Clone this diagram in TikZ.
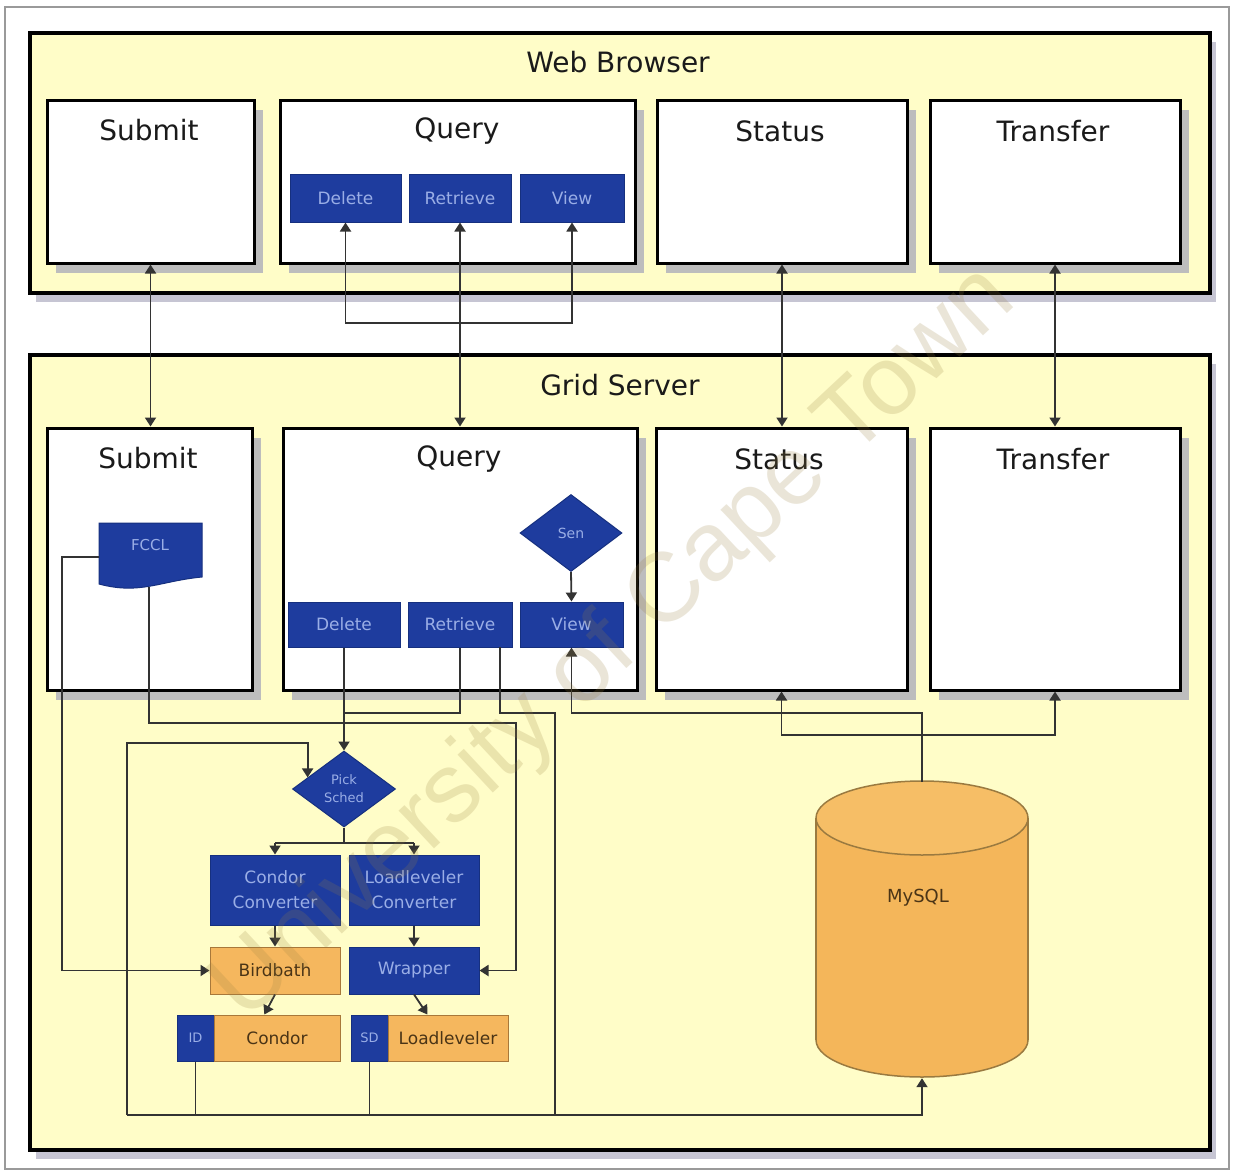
\documentclass[tikz,border=0pt]{standalone}
\usepackage{fontspec}
\setmainfont{DejaVu Sans}
\newfontfamily\wmfont{Liberation Sans}
\usetikzlibrary{shapes.geometric,shadows,arrows.meta,calc}
\definecolor{ybg}{HTML}{FFFDC8}
\definecolor{linec}{HTML}{333333}
\definecolor{titlec}{HTML}{1A1A1A}
\definecolor{bblue}{HTML}{1E3C9E}
\definecolor{bborder}{HTML}{16307F}
\definecolor{btext}{HTML}{9AAEE6}
\definecolor{orng}{HTML}{F5B75E}
\definecolor{oborder}{HTML}{A8783A}
\definecolor{otext}{HTML}{4A3416}
\definecolor{cylfill}{HTML}{F4B65A}
\definecolor{cyltop}{HTML}{F6BE66}
\definecolor{cylborder}{HTML}{9A7A40}
\definecolor{bshadow}{HTML}{BDBDBD}
\definecolor{pshadow}{HTML}{C6C5D3}
\definecolor{framec}{HTML}{9A9A9A}
\definecolor{wmc}{HTML}{9A8040}
\begin{document}
\begin{tikzpicture}[x=1pt,y=-1pt,
  line/.style={draw=linec, line width=1.8pt},
  arr/.style={line, -{Triangle[width=11pt,length=9pt]}},
  barr/.style={line, {Triangle[width=11pt,length=9pt]}-{Triangle[width=11pt,length=9pt]}},
  panel/.style={draw=black, line width=4pt, fill=ybg, inner sep=0pt,
    drop shadow={shadow xshift=6pt, shadow yshift=-9pt, fill=pshadow, opacity=1}},
  box/.style={draw=black, line width=3pt, fill=white, inner sep=0pt,
    drop shadow={shadow xshift=9pt, shadow yshift=-10pt, fill=bshadow, opacity=1}},
  title/.style={font=\fontsize{28}{32}\selectfont, text=titlec, inner sep=0pt},
  bbtn/.style={draw=bborder, line width=1pt, fill=bblue, text=btext, inner sep=0pt,
    font=\fontsize{17}{25}\selectfont, align=center},
  obtn/.style={draw=oborder, line width=1pt, fill=orng, text=otext, inner sep=0pt,
    font=\fontsize{17}{25}\selectfont},
  small/.style={font=\fontsize{13}{16}\selectfont, text=btext, align=center, inner sep=0pt},
]
\useasboundingbox (0,0) rectangle (1234,1175);
\fill[white] (0,0) rectangle (1234,1175);
\draw[framec, line width=1.5pt] (5,7) rectangle (1229,1169);

% panels
\node[panel, minimum width=1180pt, minimum height=260pt] (wb) at (620,163) {};
\node[panel, minimum width=1180pt, minimum height=795pt] (gs) at (620,752.5) {};
\node[title] (wbT) at (618,62) {Web Browser};
\node[title] (gsT) at (620,385) {Grid Server};

% web browser boxes
\node[box, minimum width=207pt, minimum height=163pt] (wSub) at (150.5,181.5) {};
\node[box, minimum width=355pt, minimum height=163pt] (wQ) at (457.5,181.5) {};
\node[box, minimum width=250pt, minimum height=163pt] (wSt) at (782,181.5) {};
\node[box, minimum width=250pt, minimum height=163pt] (wTr) at (1055,181.5) {};
\node[title] (wSubT) at (149,130) {Submit};
\node[title] (wQT) at (457,131) {Query};
\node[title] (wStT) at (780,131) {Status};
\node[title] (wTrT) at (1053,131) {Transfer};
\node[bbtn, minimum width=111pt, minimum height=48pt] (wDel) at (345.5,198) {Delete};
\node[bbtn, minimum width=102pt, minimum height=48pt] (wRet) at (460,198) {Retrieve};
\node[bbtn, minimum width=104pt, minimum height=48pt] (wView) at (572,198) {View};

% grid server boxes
\node[box, minimum width=205pt, minimum height=262pt] (gSub) at (149.5,559) {};
\node[box, minimum width=354pt, minimum height=262pt] (gQ) at (460,559) {};
\node[box, minimum width=251pt, minimum height=262pt] (gSt) at (781.5,559) {};
\node[box, minimum width=250pt, minimum height=262pt] (gTr) at (1055,559) {};
\node[title] (gSubT) at (148,458) {Submit};
\node[title] (gQT) at (459,459) {Query};
\node[title] (gStT) at (779,459) {Status};
\node[title] (gTrT) at (1053,459) {Transfer};

% submit document
\filldraw[fill=bblue, draw=bborder, line width=1pt] (99,523) -- (202,523) -- (202,577)
  .. controls (160,581) and (140,595) .. (99,584) -- cycle;
\node[small, font=\fontsize{15}{18}\selectfont, minimum width=103pt, minimum height=64pt] (doc) at (150.5,555) {};
\node[small, font=\fontsize{15}{18}\selectfont] (docT) at (150,545) {FCCL};
\coordinate (docb) at (149,587);

% grid query content
\node[bbtn, diamond, aspect=1.32, minimum width=102pt, minimum height=77pt, font=\fontsize{14}{16}\selectfont] (sen) at (571,533) {Sen};
\node[bbtn, minimum width=112pt, minimum height=45pt] (gDel) at (344,624.5) {Delete};
\node[bbtn, minimum width=104pt, minimum height=45pt] (gRet) at (460,624.5) {Retrieve};
\node[bbtn, minimum width=103pt, minimum height=45pt] (gView) at (571.5,624.5) {View};

% scheduler part
\node[bbtn, diamond, aspect=1.35, minimum width=103pt, minimum height=76pt, font=\fontsize{13}{18}\selectfont] (pick) at (344,789) {Pick\\Sched};
\node[bbtn, minimum width=130pt, minimum height=70pt] (cconv) at (275,890) {Condor\\Converter};
\node[bbtn, minimum width=130pt, minimum height=70pt] (lconv) at (414,890) {Loadleveler\\Converter};
\node[obtn, minimum width=130pt, minimum height=47pt] (bird) at (275,970.5) {Birdbath};
\node[bbtn, minimum width=130pt, minimum height=47pt] (wrap) at (414,970.5) {Wrapper};
\node[bbtn, minimum width=37pt, minimum height=46pt, font=\fontsize{13}{16}\selectfont] (ID) at (195.5,1038) {ID};
\node[obtn, minimum width=126pt, minimum height=46pt] (condor) at (277,1038) {Condor};
\node[bbtn, minimum width=37pt, minimum height=46pt, font=\fontsize{13}{16}\selectfont] (SD) at (369.5,1038) {SD};
\node[obtn, minimum width=120pt, minimum height=46pt] (ll) at (448,1038) {Loadleveler};

% MySQL cylinder
\filldraw[fill=cylfill, draw=cylborder, line width=1.5pt] (922,1040) ellipse [x radius=106, y radius=37];
\fill[cylfill] (816,818) rectangle (1028,1040);
\draw[cylborder, line width=1.5pt] (816,818) -- (816,1040) (1028,818) -- (1028,1040);
\filldraw[fill=cyltop, draw=cylborder, line width=1.5pt] (922,818) ellipse [x radius=106, y radius=37];
\node[minimum width=212pt, minimum height=296pt, inner sep=0pt] (mysql) at (922,930) {};
\node[font=\fontsize{18}{20}\selectfont, text=otext] (mysqlT) at (918,898) {MySQL};

% web <-> grid connectors
\draw[barr] (wSub.south) -- (wSub.south |- gSub.north);
\draw[barr] (wRet.south) -- (wRet.south |- gQ.north);
\draw[barr] (wSt.south) -- (wSt.south |- gSt.north);
\draw[barr] (wTr.south) -- (wTr.south |- gTr.north);
\draw[barr] (wDel.south) -- (wDel.south |- 0,323) -| (wView.south);

% grid query connectors
\draw[arr] (sen.south) -- (gView.north);
\draw[arr] (gDel.south) -- (pick.north);
\draw[line] (gRet.south) |- (gDel.south |- 0,713);
\coordinate (retR) at (500,647);
\coordinate (lb) at (127,1115);
\coordinate (rv) at (555,713);
\draw[line] (retR) |- (rv) -- (rv |- lb);
% submit document connectors
\draw[arr] (docb) |- (516,723) |- (wrap.east);
\draw[arr] (doc.west |- 0,557) -- (62,557) |- (bird.west);
% scheduler connectors
\coordinate (pickin) at ($(pick.west)!0.3!(pick.north)$);
\draw[arr] (lb) |- (pickin |- 0,743) -- (pickin);
\draw[line] (pick.south) -- (pick.south |- 0,843);
\draw[arr] (cconv.north |- 0,843) -- (cconv.north);
\draw[arr] (lconv.north |- 0,843) -- (lconv.north);
\draw[line] (cconv.north |- 0,843) -- (lconv.north |- 0,843);
\draw[arr] (cconv.south) -- (bird.north);
\draw[arr] (lconv.south) -- (wrap.north);
\draw[arr] (bird.south) -- ($(condor.north west)!0.4!(condor.north east)$);
\draw[arr] (wrap.south) -- ($(ll.north west)!0.33!(ll.north east)$);
\draw[line] (ID.south) -- (ID.south |- lb);
\draw[line] (SD.south) -- (SD.south |- lb);
\draw[arr] (lb) -- (mysql.south |- lb) -- (mysql.south);
% mysql connectors
\draw[arr] (mysql.north) |- (gView.south |- 0,713) -- (gView.south);
\draw[arr] (mysql.north |- 0,735) -| (gSt.south);
\draw[arr] (mysql.north |- 0,735) -| (gTr.south);

% watermark
\node[rotate=43, text=wmc, opacity=0.2, font=\wmfont\fontsize{98}{100}\selectfont] (wm) at (615,645) {University of Cape Town};
\end{tikzpicture}
\end{document}
